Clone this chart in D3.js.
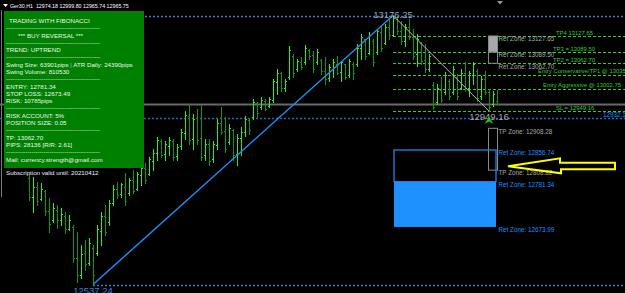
<!DOCTYPE html>
<html>
<head>
<meta charset="utf-8">
<script src="https://cdn.jsdelivr.net/npm/d3@7"></script>
<style>
html, body { margin: 0; padding: 0; background: #000; overflow: hidden; }
svg { display: block; }
text { font-family: "Liberation Sans", Arial, sans-serif; }
</style>
</head>
<body>
<div id="chart"></div>
<script>
// Ger30 H1 bars
const highs = [
  12798, 12793, 12781, 12779, 12762, 12743, 12731, 12726, 12719, 12710,
  12702, 12679, 12662, 12631, 12643, 12647, 12631, 12679, 12710, 12726,
  12738, 12774, 12781, 12779, 12803, 12791, 12810, 12805, 12822, 12827,
  12839, 12858, 12887, 12882, 12877, 12887, 12882, 12870, 12906, 12949,
  12966, 12942, 12954, 12963, 12882, 12882, 12877, 12930, 12959, 12935,
  12918, 12906, 12894, 12911, 12937, 12930, 12978, 12970, 12982, 12978,
  12982, 13026, 13049, 13042, 13026, 13104, 13085, 13073, 13078, 13107,
  13097, 13093, 13097, 13073, 13078, 13061, 13073, 13081, 13069, 13061,
  13073, 13066, 13109, 13133, 13121, 13138, 13121, 13145, 13152, 13157,
  13169, 13176.25, 13174, 13164, 13157, 13169, 13145, 13133, 13114, 13109,
  13085, 13018, 13014, 13030, 13042, 13026, 13057, 13037, 13049, 13066,
  13045, 13066, 13049, 13033, 13045, 13002, 12997, 12999.80
];
const lows = [
  12738, 12710, 12726, 12738, 12702, 12662, 12686, 12671, 12679, 12659,
  12667, 12590, 12542, 12552, 12571, 12583, 12537.24, 12607, 12631, 12655,
  12679, 12726, 12743, 12746, 12726, 12750, 12755, 12762, 12774, 12779,
  12798, 12810, 12834, 12839, 12834, 12846, 12834, 12834, 12858, 12882,
  12870, 12858, 12870, 12834, 12834, 12822, 12829, 12858, 12894, 12851,
  12870, 12834, 12822, 12846, 12889, 12894, 12930, 12935, 12954, 12951,
  12959, 12970, 12990, 12997, 12997, 13026, 13030, 13045, 13049, 13061,
  13073, 13042, 13061, 13037, 13014, 13021, 13030, 13037, 13021, 13026,
  13030, 13026, 13057, 13073, 13073, 13085, 13057, 13085, 13093, 13109,
  13121, 13128, 13133, 13109, 13104, 13121, 13073, 13057, 13061, 13042,
  13045, 12954, 12966, 12970, 12990, 12978, 12990, 12978, 13002, 12997,
  12985, 13014, 12973, 12978, 12990, 12949.16, 12961, 12965.74
];
const opens = [
  12790, 12745, 12770, 12740, 12760, 12712, 12690, 12715, 12690, 12700,
  12670, 12675, 12600, 12560, 12612, 12588, 12625, 12612, 12665, 12700,
  12685, 12730, 12765, 12752, 12770, 12755, 12785, 12765, 12798, 12815,
  12800, 12830, 12850, 12878, 12848, 12866, 12878, 12842, 12866, 12898,
  12938, 12882, 12932, 12885, 12845, 12870, 12835, 12868, 12920, 12902,
  12875, 12905, 12848, 12885, 12900, 12928, 12935, 12968, 12958, 12972,
  12962, 12975, 13018, 13040, 13005, 13030, 13080, 13048, 13065, 13065,
  13095, 13082, 13065, 13070, 13045, 13028, 13050, 13062, 13042, 13060,
  13035, 13062, 13060, 13100, 13120, 13088, 13115, 13090, 13138, 13112,
  13150, 13130, 13168, 13140, 13115, 13148, 13125, 13085, 13110, 13070,
  13050, 13010, 12970, 13000, 12995, 13020, 12995, 13030, 13005, 13040,
  13005, 13035, 13045, 12985, 13025, 12995, 12965, 12974.18
];
const closes = [
  12745, 12770, 12735, 12765, 12712, 12680, 12720, 12690, 12705, 12668,
  12690, 12600, 12560, 12610, 12585, 12635, 12560, 12668, 12700, 12662,
  12730, 12765, 12750, 12775, 12735, 12785, 12760, 12800, 12815, 12785,
  12835, 12850, 12880, 12845, 12870, 12880, 12840, 12865, 12900, 12940,
  12880, 12930, 12880, 12840, 12870, 12830, 12870, 12920, 12900, 12860,
  12910, 12845, 12885, 12900, 12930, 12905, 12970, 12945, 12975, 12955,
  12978, 13020, 13040, 13005, 13020, 13095, 13040, 13068, 13055, 13100,
  13080, 13050, 13090, 13045, 13025, 13055, 13065, 13040, 13065, 13030,
  13068, 13040, 13100, 13125, 13080, 13130, 13065, 13140, 13100, 13150,
  13130, 13170, 13140, 13115, 13150, 13125, 13080, 13120, 13068, 13048,
  13080, 12960, 13005, 12975, 13035, 12985, 13050, 12985, 13040, 13005,
  13040, 13060, 12980, 13025, 12995, 12960, 12990, 12965.75
];

const title = "Ger30,H1  12974.18 12999.80 12965.74 12965.75";

// swing points (bar index, price)
const swingLow = [16, 12537.24];
const swingHigh = [91, 13176.25];
const retestLow = [115, 12949.16];
const bidPrice = 12965.75;
const fib382 = 12932.15;

// green levels of the retest swing
const levelPrices = [13127.65, 13089.50, 13062.70, 13035.91, 13002.75, 12949.16];
const levelLabels = ["TP4 13127.65", "TP3 = 13089.50", "TP2 = 13062.70",
  "Entry Conservative/TP1 @ 13035.91", "Entry Aggressive @ 13002.75", "SL = 12949.16"];

// zone boxes
const retZonesUp = [13127.65, 13089.50, 13062.70];
const tpZones = [12908.28, 12808.82];
const retZonesDown = [12856.74, 12781.34, 12673.99];

const panelLines = [
  "TRADING WITH FIBONACCI",
  "-",
  "*** BUY REVERSAL ***",
  "-",
  "TREND: UPTREND",
  "-",
  "Swing Size: 63901pips | ATR Daily: 24390pips",
  "Swing Volume: 810530",
  "-",
  "ENTRY: 12781.34",
  "STOP LOSS: 12673.49",
  "RISK: 10785pips",
  "-",
  "RISK ACCOUNT: 5%",
  "POSITION SIZE: 0.05",
  "-",
  "TP: 13062.70",
  "PIPS: 28136  [R/R: 2.61]",
  "-",
  "Mail: currency.strength@gmail.com"
];
const subscription = "Subscription valid until: 20210412";

// ---- layout ----
const W = 625, H = 293;
const upColor = "#1ef51e", downColor = "#0c9a0c";
const levelColor = "#32cd32";
const blue = "#1e90ff";

const svg = d3.select('#chart').append('svg')
    .attr('width', W)
    .attr('height', H)
    .style('background', '#000');

const x = d3.scaleLinear().domain([0, highs.length - 1]).range([29, 497]);
const y = d3.scaleLinear().domain([swingLow[1], swingHigh[1]]).range([284.5, 15.5]);
const px = v => Math.round(v) + 0.5;

// left border
svg.append('line').attr('x1', 1.5).attr('x2', 1.5).attr('y1', 10).attr('y2', 197)
    .attr('stroke', '#7a7a7a');

// horizontal reference lines
svg.append('line')
    .attr('x1', 0).attr('x2', W)
    .attr('y1', px(y(bidPrice))).attr('y2', px(y(bidPrice)))
    .attr('stroke', '#6a6a6a').attr('stroke-width', 2);

svg.append('line')
    .attr('x1', 0).attr('x2', W)
    .attr('y1', px(y(fib382))).attr('y2', px(y(fib382)))
    .attr('stroke', '#2a66b8').attr('stroke-width', 1.5).attr('stroke-dasharray', '2,2');

svg.selectAll('line.swing-dot')
    .data([swingHigh, swingLow])
    .join('line')
    .attr('class', 'swing-dot')
    .attr('x1', x(swingLow[0])).attr('x2', W)
    .attr('y1', d => px(y(d[1]))).attr('y2', d => px(y(d[1])))
    .attr('stroke', '#3584dc').attr('stroke-width', 1.3).attr('stroke-dasharray', '2,2');

// green fib levels
svg.append('g')
    .selectAll('line')
    .data(levelPrices)
    .join('line')
    .attr('x1', x(swingHigh[0])).attr('x2', W)
    .attr('y1', d => px(y(d))).attr('y2', d => px(y(d)))
    .attr('stroke', levelColor).attr('stroke-dasharray', '3,2');

// bars
const bars = highs.map((h, i) => ({i, h, l: lows[i], o: opens[i], c: closes[i]}));
const barG = svg.append('g').attr('id', 'bars');
barG.selectAll('g')
    .data(bars)
    .join('g')
    .attr('stroke', d => d.c >= d.o ? upColor : downColor)
    .each(function(d) {
        const g = d3.select(this);
        const cx = px(x(d.i));
        g.append('line').attr('x1', cx).attr('x2', cx).attr('y1', Math.round(y(d.h))).attr('y2', Math.round(y(d.l)) + 1);
        g.append('line').attr('x1', cx - 1.5).attr('x2', cx - 0.5)
            .attr('y1', px(y(d.o))).attr('y2', px(y(d.o)));
        g.append('line').attr('x1', cx + 0.5).attr('x2', cx + 1.5)
            .attr('y1', px(y(d.c))).attr('y2', px(y(d.c)));
    });

// swing lines
svg.append('line')
    .attr('x1', x(swingLow[0])).attr('y1', y(swingLow[1]))
    .attr('x2', x(swingHigh[0])).attr('y2', y(swingHigh[1]))
    .attr('stroke', blue).attr('stroke-width', 1.4);
svg.append('line')
    .attr('x1', x(swingHigh[0])).attr('y1', y(swingHigh[1]))
    .attr('x2', x(retestLow[0])).attr('y2', y(retestLow[1]))
    .attr('stroke', '#bdbdbd').attr('stroke-width', 1);

// zone boxes
const zx0 = x(retestLow[0]) - 0.5, zx1 = x(highs.length - 1) + 0.5;
svg.append('rect')
    .attr('x', zx0).attr('y', y(retZonesUp[0]))
    .attr('width', zx1 - zx0).attr('height', y(retZonesUp[1]) - y(retZonesUp[0]))
    .attr('fill', '#a8a8a8').attr('stroke', '#8a8a8a');
svg.append('rect')
    .attr('x', zx0).attr('y', y(retZonesUp[1]))
    .attr('width', zx1 - zx0).attr('height', y(retZonesUp[2]) - y(retZonesUp[1]))
    .attr('fill', 'none').attr('stroke', '#8a8a8a');
svg.append('rect')
    .attr('x', zx0).attr('y', y(tpZones[0]))
    .attr('width', zx1 - zx0).attr('height', y(tpZones[1]) - y(tpZones[0]))
    .attr('fill', 'none').attr('stroke', '#8a8a8a');

const bx0 = x(swingHigh[0]) + 1, bx1 = x(highs.length - 1) - 1;
svg.append('rect')
    .attr('x', bx0).attr('y', y(retZonesDown[0]))
    .attr('width', bx1 - bx0).attr('height', y(retZonesDown[1]) - y(retZonesDown[0]))
    .attr('fill', 'none').attr('stroke', blue).attr('stroke-width', 1.2);
svg.append('rect')
    .attr('x', bx0).attr('y', y(retZonesDown[1]))
    .attr('width', bx1 - bx0).attr('height', y(retZonesDown[2]) - y(retZonesDown[1]))
    .attr('fill', blue);

// zone labels
const zoneLabels = [
    ...retZonesUp.map(p => ({t: "Ret Zone: " + p.toFixed(2), p, c: '#a9a9a9'})),
    ...tpZones.map(p => ({t: "TP Zone: " + p.toFixed(2), p, c: '#a9a9a9'})),
    ...retZonesDown.map(p => ({t: "Ret Zone: " + p.toFixed(2), p, c: blue}))
];
svg.append('g')
    .selectAll('text')
    .data(zoneLabels)
    .join('text')
    .attr('x', zx1 + 1)
    .attr('y', d => y(d.p) + 5.2)
    .attr('font-size', 6.3)
    .attr('fill', d => d.c)
    .text(d => d.t);

// green level labels
const levelLabelX = [556, 553, 553, 538, 543, 556];
svg.append('g')
    .selectAll('text')
    .data(levelPrices)
    .join('text')
    .attr('x', (d, i) => levelLabelX[i])
    .attr('y', d => y(d) - 1.3)
    .attr('font-size', 5.9)
    .attr('fill', levelColor)
    .text((d, i) => levelLabels[i]);

svg.append('text')
    .attr('x', 603).attr('y', y(fib382) - 0.8)
    .attr('font-size', 6.3).attr('fill', blue)
    .text(fib382.toFixed(2));

// swing price labels
svg.append('text')
    .attr('x', x(swingHigh[0])).attr('y', y(swingHigh[1]) + 2)
    .attr('text-anchor', 'middle').attr('font-size', 9.5).attr('fill', '#98a2b8')
    .text(swingHigh[1].toFixed(2));
svg.append('text')
    .attr('x', x(retestLow[0])).attr('y', y(retestLow[1]) + 8.8)
    .attr('text-anchor', 'middle').attr('font-size', 9.5).attr('fill', '#a6a6a6')
    .text(retestLow[1].toFixed(2));
svg.append('text')
    .attr('x', x(swingLow[0])).attr('y', y(swingLow[1]) + 9)
    .attr('text-anchor', 'middle').attr('font-size', 9.5).attr('fill', '#3a86d8')
    .text(swingLow[1].toFixed(2));

// buy arrow under the retest low
const ax = x(retestLow[0]), at = y(retestLow[1]) + 6;
svg.append('path')
    .attr('d', `M${ax},${at} L${ax + 4.5},${at + 7} L${ax},${at + 4.5} L${ax - 4.5},${at + 7} Z`)
    .attr('fill', '#10d010');

// yellow pointer arrow
const tx = x(highs.length - 1) + 11, ty = y(12818);
const arrowPts = [[0, 0], [52, -8], [52, -3.5], [107, -3.5], [107, 3], [53, 3], [53, 7]];
svg.append('path')
    .attr('d', d3.line()(arrowPts.map(p => [tx + p[0], ty + p[1]])) + 'Z')
    .attr('fill', 'none').attr('stroke', '#ffff00').attr('stroke-width', 2)
    .attr('stroke-linejoin', 'miter');

// chart shift marker
svg.append('path')
    .attr('d', 'M497,1 L503,1 L500,4.5 Z')
    .attr('fill', '#9a9a9a');

// info panel
const panel = svg.append('g').attr('id', 'panel');
panel.append('rect')
    .attr('x', 4).attr('y', 11).attr('width', 140).attr('height', 157)
    .attr('fill', '#008000');
const indent = {0: 9, 2: 18};
panelLines.forEach((t, i) => {
    const yy = 20.7 + i * 7.3;
    if (t === '-') {
        panel.append('text')
            .attr('x', 6).attr('y', yy + 2)
            .attr('font-size', 6).attr('fill', '#e8e8e8')
            .attr('textLength', 94).attr('lengthAdjust', 'spacing')
            .text('-'.repeat(48));
        return;
    }
    const tt = panel.append('text')
        .attr('x', indent[i] !== undefined ? indent[i] : 6)
        .attr('y', yy + 2.2)
        .attr('font-size', 6.2).attr('fill', '#eef5ee');
    if (t.includes('|')) {
        const parts = t.split('|');
        tt.append('tspan').text(parts[0]);
        tt.append('tspan').attr('fill', '#6fc8ff').text('|');
        tt.append('tspan').text(parts[1]);
    } else {
        tt.text(t);
    }
});
svg.append('text')
    .attr('x', 6).attr('y', 174.5)
    .attr('font-size', 6.2).attr('fill', '#f0f0f0')
    .text(subscription);

// header
svg.append('path').attr('d', 'M3,4 L8,4 L5.5,7 Z').attr('fill', '#fff');
svg.append('text')
    .attr('x', 10).attr('y', 7.6)
    .attr('font-size', 5.3).attr('fill', '#fff')
    .attr('xml:space', 'preserve')
    .text(title);
</script>
</body>
</html>
